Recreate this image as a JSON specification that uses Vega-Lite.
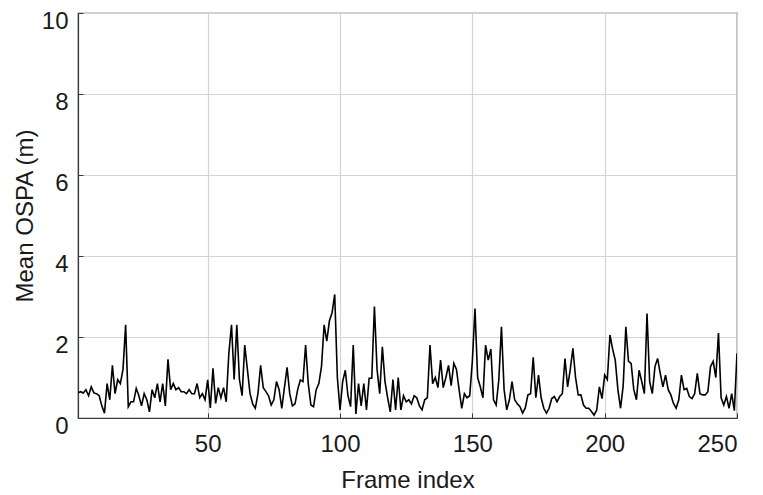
{
  "$schema": "https://vega.github.io/schema/vega-lite/v6.json",
  "autosize": "none",
  "width": 659,
  "height": 405,
  "padding": {"left": 78, "top": 13, "right": 26, "bottom": 77},
  "background": "white",
  "config": {
    "view": {"stroke": "#3a3a3a", "strokeWidth": 1.2},
    "font": "Liberation Sans",
    "axis": {
      "labelFont": "Liberation Sans",
      "titleFont": "Liberation Sans",
      "labelFontSize": 24,
      "titleFontSize": 24,
      "labelColor": "#1a1a1a",
      "titleColor": "#1a1a1a",
      "titleFontWeight": "normal",
      "domainColor": "#3a3a3a",
      "domainWidth": 1.2,
      "gridColor": "#d4d4d4",
      "gridWidth": 1.2,
      "tickColor": "#3a3a3a",
      "tickSize": -5
    }
  },
  "data": {
    "values": [
      {"frame": 1, "ospa": 0.62}, {"frame": 2, "ospa": 0.65}, {"frame": 3, "ospa": 0.62}, {"frame": 4, "ospa": 0.7}, {"frame": 5, "ospa": 0.55},
      {"frame": 6, "ospa": 0.77}, {"frame": 7, "ospa": 0.62}, {"frame": 8, "ospa": 0.6}, {"frame": 9, "ospa": 0.55}, {"frame": 10, "ospa": 0.3},
      {"frame": 11, "ospa": 0.12}, {"frame": 12, "ospa": 0.85}, {"frame": 13, "ospa": 0.45}, {"frame": 14, "ospa": 1.3}, {"frame": 15, "ospa": 0.6},
      {"frame": 16, "ospa": 0.95}, {"frame": 17, "ospa": 0.85}, {"frame": 18, "ospa": 1.2}, {"frame": 19, "ospa": 2.3}, {"frame": 20, "ospa": 0.28},
      {"frame": 21, "ospa": 0.4}, {"frame": 22, "ospa": 0.4}, {"frame": 23, "ospa": 0.73}, {"frame": 24, "ospa": 0.55}, {"frame": 25, "ospa": 0.3},
      {"frame": 26, "ospa": 0.6}, {"frame": 27, "ospa": 0.45}, {"frame": 28, "ospa": 0.15}, {"frame": 29, "ospa": 0.7}, {"frame": 30, "ospa": 0.5},
      {"frame": 31, "ospa": 0.85}, {"frame": 32, "ospa": 0.4}, {"frame": 33, "ospa": 0.85}, {"frame": 34, "ospa": 0.3}, {"frame": 35, "ospa": 1.45},
      {"frame": 36, "ospa": 0.7}, {"frame": 37, "ospa": 0.85}, {"frame": 38, "ospa": 0.7}, {"frame": 39, "ospa": 0.75}, {"frame": 40, "ospa": 0.65},
      {"frame": 41, "ospa": 0.65}, {"frame": 42, "ospa": 0.6}, {"frame": 43, "ospa": 0.7}, {"frame": 44, "ospa": 0.6}, {"frame": 45, "ospa": 0.6},
      {"frame": 46, "ospa": 0.85}, {"frame": 47, "ospa": 0.5}, {"frame": 48, "ospa": 0.6}, {"frame": 49, "ospa": 0.45}, {"frame": 50, "ospa": 0.94},
      {"frame": 51, "ospa": 0.25}, {"frame": 52, "ospa": 1.23}, {"frame": 53, "ospa": 0.36}, {"frame": 54, "ospa": 0.75}, {"frame": 55, "ospa": 0.5},
      {"frame": 56, "ospa": 0.75}, {"frame": 57, "ospa": 0.4}, {"frame": 58, "ospa": 1.6}, {"frame": 59, "ospa": 2.3}, {"frame": 60, "ospa": 0.95},
      {"frame": 61, "ospa": 2.3}, {"frame": 62, "ospa": 0.95}, {"frame": 63, "ospa": 0.55}, {"frame": 64, "ospa": 1.8}, {"frame": 65, "ospa": 1.2},
      {"frame": 66, "ospa": 0.6}, {"frame": 67, "ospa": 0.35}, {"frame": 68, "ospa": 0.24}, {"frame": 69, "ospa": 0.6}, {"frame": 70, "ospa": 1.3},
      {"frame": 71, "ospa": 0.75}, {"frame": 72, "ospa": 0.65}, {"frame": 73, "ospa": 0.55}, {"frame": 74, "ospa": 0.32}, {"frame": 75, "ospa": 0.45},
      {"frame": 76, "ospa": 0.9}, {"frame": 77, "ospa": 0.7}, {"frame": 78, "ospa": 0.24}, {"frame": 79, "ospa": 0.75}, {"frame": 80, "ospa": 1.25},
      {"frame": 81, "ospa": 0.6}, {"frame": 82, "ospa": 0.3}, {"frame": 83, "ospa": 0.35}, {"frame": 84, "ospa": 0.7}, {"frame": 85, "ospa": 0.94},
      {"frame": 86, "ospa": 0.9}, {"frame": 87, "ospa": 1.8}, {"frame": 88, "ospa": 0.85}, {"frame": 89, "ospa": 0.32}, {"frame": 90, "ospa": 0.28},
      {"frame": 91, "ospa": 0.7}, {"frame": 92, "ospa": 0.85}, {"frame": 93, "ospa": 1.27}, {"frame": 94, "ospa": 2.3}, {"frame": 95, "ospa": 1.9},
      {"frame": 96, "ospa": 2.4}, {"frame": 97, "ospa": 2.6}, {"frame": 98, "ospa": 3.05}, {"frame": 99, "ospa": 1.0}, {"frame": 100, "ospa": 0.2},
      {"frame": 101, "ospa": 0.9}, {"frame": 102, "ospa": 1.18}, {"frame": 103, "ospa": 0.55}, {"frame": 104, "ospa": 0.28}, {"frame": 105, "ospa": 1.8},
      {"frame": 106, "ospa": 0.1}, {"frame": 107, "ospa": 0.85}, {"frame": 108, "ospa": 0.3}, {"frame": 109, "ospa": 0.85}, {"frame": 110, "ospa": 0.2},
      {"frame": 111, "ospa": 0.98}, {"frame": 112, "ospa": 0.98}, {"frame": 113, "ospa": 2.75}, {"frame": 114, "ospa": 1.2}, {"frame": 115, "ospa": 0.6},
      {"frame": 116, "ospa": 1.76}, {"frame": 117, "ospa": 0.9}, {"frame": 118, "ospa": 0.5}, {"frame": 119, "ospa": 0.15}, {"frame": 120, "ospa": 0.95},
      {"frame": 121, "ospa": 0.2}, {"frame": 122, "ospa": 1.0}, {"frame": 123, "ospa": 0.2}, {"frame": 124, "ospa": 0.55}, {"frame": 125, "ospa": 0.4},
      {"frame": 126, "ospa": 0.45}, {"frame": 127, "ospa": 0.35}, {"frame": 128, "ospa": 0.55}, {"frame": 129, "ospa": 0.5}, {"frame": 130, "ospa": 0.3},
      {"frame": 131, "ospa": 0.2}, {"frame": 132, "ospa": 0.45}, {"frame": 133, "ospa": 0.5}, {"frame": 134, "ospa": 1.8}, {"frame": 135, "ospa": 0.85},
      {"frame": 136, "ospa": 1.0}, {"frame": 137, "ospa": 0.75}, {"frame": 138, "ospa": 1.43}, {"frame": 139, "ospa": 0.75}, {"frame": 140, "ospa": 1.0},
      {"frame": 141, "ospa": 1.3}, {"frame": 142, "ospa": 0.8}, {"frame": 143, "ospa": 1.35}, {"frame": 144, "ospa": 1.2}, {"frame": 145, "ospa": 0.7},
      {"frame": 146, "ospa": 0.24}, {"frame": 147, "ospa": 0.6}, {"frame": 148, "ospa": 0.5}, {"frame": 149, "ospa": 0.55}, {"frame": 150, "ospa": 1.4},
      {"frame": 151, "ospa": 2.7}, {"frame": 152, "ospa": 1.0}, {"frame": 153, "ospa": 0.77}, {"frame": 154, "ospa": 0.5}, {"frame": 155, "ospa": 1.8},
      {"frame": 156, "ospa": 1.43}, {"frame": 157, "ospa": 1.7}, {"frame": 158, "ospa": 0.45}, {"frame": 159, "ospa": 0.32}, {"frame": 160, "ospa": 0.94},
      {"frame": 161, "ospa": 2.25}, {"frame": 162, "ospa": 0.7}, {"frame": 163, "ospa": 0.2}, {"frame": 164, "ospa": 0.45}, {"frame": 165, "ospa": 0.9},
      {"frame": 166, "ospa": 0.45}, {"frame": 167, "ospa": 0.35}, {"frame": 168, "ospa": 0.28}, {"frame": 169, "ospa": 0.12}, {"frame": 170, "ospa": 0.25},
      {"frame": 171, "ospa": 0.57}, {"frame": 172, "ospa": 0.6}, {"frame": 173, "ospa": 1.5}, {"frame": 174, "ospa": 0.5}, {"frame": 175, "ospa": 1.06},
      {"frame": 176, "ospa": 0.5}, {"frame": 177, "ospa": 0.24}, {"frame": 178, "ospa": 0.12}, {"frame": 179, "ospa": 0.24}, {"frame": 180, "ospa": 0.48},
      {"frame": 181, "ospa": 0.53}, {"frame": 182, "ospa": 0.4}, {"frame": 183, "ospa": 0.53}, {"frame": 184, "ospa": 0.6}, {"frame": 185, "ospa": 1.47},
      {"frame": 186, "ospa": 0.77}, {"frame": 187, "ospa": 1.2}, {"frame": 188, "ospa": 1.72}, {"frame": 189, "ospa": 1.0}, {"frame": 190, "ospa": 0.57},
      {"frame": 191, "ospa": 0.57}, {"frame": 192, "ospa": 0.32}, {"frame": 193, "ospa": 0.24}, {"frame": 194, "ospa": 0.24}, {"frame": 195, "ospa": 0.16},
      {"frame": 196, "ospa": 0.07}, {"frame": 197, "ospa": 0.2}, {"frame": 198, "ospa": 0.77}, {"frame": 199, "ospa": 0.48}, {"frame": 200, "ospa": 1.06},
      {"frame": 201, "ospa": 0.95}, {"frame": 202, "ospa": 2.05}, {"frame": 203, "ospa": 1.7}, {"frame": 204, "ospa": 1.43}, {"frame": 205, "ospa": 0.7},
      {"frame": 206, "ospa": 0.24}, {"frame": 207, "ospa": 0.8}, {"frame": 208, "ospa": 2.25}, {"frame": 209, "ospa": 1.4}, {"frame": 210, "ospa": 1.35},
      {"frame": 211, "ospa": 0.7}, {"frame": 212, "ospa": 0.45}, {"frame": 213, "ospa": 1.18}, {"frame": 214, "ospa": 0.9}, {"frame": 215, "ospa": 0.6},
      {"frame": 216, "ospa": 2.58}, {"frame": 217, "ospa": 0.9}, {"frame": 218, "ospa": 0.6}, {"frame": 219, "ospa": 1.27}, {"frame": 220, "ospa": 1.47},
      {"frame": 221, "ospa": 1.1}, {"frame": 222, "ospa": 0.77}, {"frame": 223, "ospa": 1.06}, {"frame": 224, "ospa": 0.7}, {"frame": 225, "ospa": 0.57},
      {"frame": 226, "ospa": 0.36}, {"frame": 227, "ospa": 0.24}, {"frame": 228, "ospa": 0.45}, {"frame": 229, "ospa": 1.06}, {"frame": 230, "ospa": 0.7},
      {"frame": 231, "ospa": 0.73}, {"frame": 232, "ospa": 0.53}, {"frame": 233, "ospa": 0.48}, {"frame": 234, "ospa": 0.6}, {"frame": 235, "ospa": 1.1},
      {"frame": 236, "ospa": 0.6}, {"frame": 237, "ospa": 0.57}, {"frame": 238, "ospa": 0.57}, {"frame": 239, "ospa": 0.65}, {"frame": 240, "ospa": 1.27},
      {"frame": 241, "ospa": 1.4}, {"frame": 242, "ospa": 1.0}, {"frame": 243, "ospa": 2.1}, {"frame": 244, "ospa": 0.5}, {"frame": 245, "ospa": 0.32},
      {"frame": 246, "ospa": 0.53}, {"frame": 247, "ospa": 0.24}, {"frame": 248, "ospa": 0.6}, {"frame": 249, "ospa": 0.18}, {"frame": 250, "ospa": 1.6}
    ]
  },
  "mark": {"type": "line", "color": "#000000", "strokeWidth": 1.6, "clip": true},
  "encoding": {
    "x": {
      "field": "frame",
      "type": "quantitative",
      "scale": {"domain": [1, 250], "nice": false, "zero": false},
      "axis": {
        "title": "Frame index",
        "values": [50, 100, 150, 200, 250],
        "labelPadding": 19,
        "titlePadding": 12
      }
    },
    "y": {
      "field": "ospa",
      "type": "quantitative",
      "scale": {"domain": [0, 10], "nice": false},
      "axis": {
        "title": "Mean OSPA (m)",
        "values": [0, 2, 4, 6, 8, 10],
        "labelPadding": 15,
        "labelOffset": 8,
        "titlePadding": 4
      }
    }
  }
}
